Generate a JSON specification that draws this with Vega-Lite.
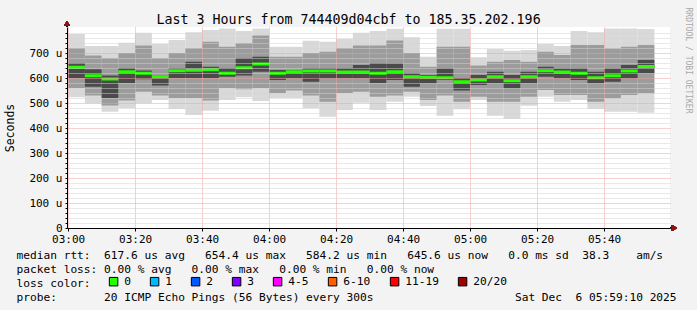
{
  "$schema": "https://vega.github.io/schema/vega-lite/v6.json",
  "width": 603,
  "height": 201,
  "autosize": {"type": "none"},
  "padding": {"left": 67, "top": 27, "right": 27, "bottom": 82},
  "background": "#f3f3f3",
  "title": {"text": "Last 3 Hours from 744409d04cbf to 185.35.202.196", "font": "DejaVu Sans Mono", "fontSize": 13.3, "fontWeight": "normal", "color": "#000000", "anchor": "middle", "dx": -20, "dy": 23, "offset": 4},
  "config": {
    "view": {"fill": "#ffffff", "stroke": null},
    "axis": {"labelFont": "DejaVu Sans Mono", "labelFontSize": 11, "labelColor": "#000000", "titleFont": "DejaVu Sans Mono", "titleFontWeight": "normal", "titleColor": "#000000", "domainColor": "#000000", "tickColor": "#000000"}
  },
  "datasets": {
    "smoke": [
      {"t": "2025-12-06T03:00:00Z", "end": "2025-12-06T03:05:00Z", "min": 523, "max": 776, "lo": 560, "hi": 720, "ilo": 600, "ihi": 660, "med": 643},
      {"t": "2025-12-06T03:05:00Z", "end": "2025-12-06T03:10:00Z", "min": 499, "max": 728, "lo": 530, "hi": 690, "ilo": 565, "ihi": 635, "med": 609},
      {"t": "2025-12-06T03:10:00Z", "end": "2025-12-06T03:15:00Z", "min": 465, "max": 728, "lo": 490, "hi": 680, "ilo": 520, "ihi": 610, "med": 596},
      {"t": "2025-12-06T03:15:00Z", "end": "2025-12-06T03:20:00Z", "min": 479, "max": 741, "lo": 510, "hi": 700, "ilo": 580, "ihi": 640, "med": 625},
      {"t": "2025-12-06T03:20:00Z", "end": "2025-12-06T03:25:00Z", "min": 499, "max": 781, "lo": 545, "hi": 730, "ilo": 595, "ihi": 630, "med": 619},
      {"t": "2025-12-06T03:25:00Z", "end": "2025-12-06T03:30:00Z", "min": 512, "max": 736, "lo": 530, "hi": 680, "ilo": 570, "ihi": 610, "med": 605},
      {"t": "2025-12-06T03:30:00Z", "end": "2025-12-06T03:35:00Z", "min": 476, "max": 752, "lo": 520, "hi": 700, "ilo": 600, "ihi": 640, "med": 629},
      {"t": "2025-12-06T03:35:00Z", "end": "2025-12-06T03:40:00Z", "min": 452, "max": 783, "lo": 520, "hi": 720, "ilo": 600, "ihi": 665, "med": 631},
      {"t": "2025-12-06T03:40:00Z", "end": "2025-12-06T03:45:00Z", "min": 469, "max": 792, "lo": 510, "hi": 745, "ilo": 600, "ihi": 645, "med": 633},
      {"t": "2025-12-06T03:45:00Z", "end": "2025-12-06T03:50:00Z", "min": 512, "max": 798, "lo": 560, "hi": 725, "ilo": 605, "ihi": 640, "med": 619},
      {"t": "2025-12-06T03:50:00Z", "end": "2025-12-06T03:55:00Z", "min": 523, "max": 788, "lo": 555, "hi": 740, "ilo": 610, "ihi": 680, "med": 641},
      {"t": "2025-12-06T03:55:00Z", "end": "2025-12-06T04:00:00Z", "min": 508, "max": 798, "lo": 560, "hi": 770, "ilo": 625, "ihi": 685, "med": 656},
      {"t": "2025-12-06T04:00:00Z", "end": "2025-12-06T04:05:00Z", "min": 520, "max": 725, "lo": 540, "hi": 685, "ilo": 592, "ihi": 632, "med": 619},
      {"t": "2025-12-06T04:05:00Z", "end": "2025-12-06T04:10:00Z", "min": 520, "max": 725, "lo": 550, "hi": 685, "ilo": 599, "ihi": 632, "med": 625},
      {"t": "2025-12-06T04:10:00Z", "end": "2025-12-06T04:15:00Z", "min": 479, "max": 749, "lo": 530, "hi": 700, "ilo": 585, "ihi": 640, "med": 628},
      {"t": "2025-12-06T04:15:00Z", "end": "2025-12-06T04:20:00Z", "min": 445, "max": 745, "lo": 505, "hi": 705, "ilo": 599, "ihi": 640, "med": 628},
      {"t": "2025-12-06T04:20:00Z", "end": "2025-12-06T04:25:00Z", "min": 472, "max": 756, "lo": 540, "hi": 720, "ilo": 599, "ihi": 640, "med": 624},
      {"t": "2025-12-06T04:25:00Z", "end": "2025-12-06T04:30:00Z", "min": 501, "max": 781, "lo": 545, "hi": 730, "ilo": 599, "ihi": 652, "med": 624},
      {"t": "2025-12-06T04:30:00Z", "end": "2025-12-06T04:35:00Z", "min": 472, "max": 788, "lo": 525, "hi": 730, "ilo": 580, "ihi": 660, "med": 619},
      {"t": "2025-12-06T04:35:00Z", "end": "2025-12-06T04:40:00Z", "min": 505, "max": 797, "lo": 530, "hi": 750, "ilo": 592, "ihi": 659, "med": 625},
      {"t": "2025-12-06T04:40:00Z", "end": "2025-12-06T04:45:00Z", "min": 525, "max": 763, "lo": 545, "hi": 700, "ilo": 565, "ihi": 620, "med": 605},
      {"t": "2025-12-06T04:45:00Z", "end": "2025-12-06T04:50:00Z", "min": 488, "max": 685, "lo": 512, "hi": 645, "ilo": 579, "ihi": 612, "med": 603},
      {"t": "2025-12-06T04:50:00Z", "end": "2025-12-06T04:55:00Z", "min": 449, "max": 797, "lo": 530, "hi": 725, "ilo": 592, "ihi": 639, "med": 601},
      {"t": "2025-12-06T04:55:00Z", "end": "2025-12-06T05:00:00Z", "min": 475, "max": 797, "lo": 505, "hi": 725, "ilo": 550, "ihi": 600, "med": 585},
      {"t": "2025-12-06T05:00:00Z", "end": "2025-12-06T05:05:00Z", "min": 512, "max": 683, "lo": 525, "hi": 650, "ilo": 572, "ihi": 612, "med": 592},
      {"t": "2025-12-06T05:05:00Z", "end": "2025-12-06T05:10:00Z", "min": 449, "max": 716, "lo": 505, "hi": 665, "ilo": 579, "ihi": 625, "med": 605},
      {"t": "2025-12-06T05:10:00Z", "end": "2025-12-06T05:15:00Z", "min": 436, "max": 709, "lo": 505, "hi": 672, "ilo": 559, "ihi": 612, "med": 589},
      {"t": "2025-12-06T05:15:00Z", "end": "2025-12-06T05:20:00Z", "min": 489, "max": 712, "lo": 525, "hi": 665, "ilo": 579, "ihi": 625, "med": 605},
      {"t": "2025-12-06T05:20:00Z", "end": "2025-12-06T05:25:00Z", "min": 525, "max": 736, "lo": 552, "hi": 705, "ilo": 605, "ihi": 645, "med": 629},
      {"t": "2025-12-06T05:25:00Z", "end": "2025-12-06T05:30:00Z", "min": 505, "max": 728, "lo": 532, "hi": 692, "ilo": 599, "ihi": 639, "med": 624},
      {"t": "2025-12-06T05:30:00Z", "end": "2025-12-06T05:35:00Z", "min": 512, "max": 788, "lo": 532, "hi": 732, "ilo": 592, "ihi": 639, "med": 619},
      {"t": "2025-12-06T05:35:00Z", "end": "2025-12-06T05:40:00Z", "min": 476, "max": 783, "lo": 505, "hi": 732, "ilo": 579, "ihi": 625, "med": 601},
      {"t": "2025-12-06T05:40:00Z", "end": "2025-12-06T05:45:00Z", "min": 465, "max": 798, "lo": 519, "hi": 719, "ilo": 585, "ihi": 639, "med": 609},
      {"t": "2025-12-06T05:45:00Z", "end": "2025-12-06T05:50:00Z", "min": 465, "max": 798, "lo": 532, "hi": 725, "ilo": 599, "ihi": 652, "med": 628},
      {"t": "2025-12-06T05:50:00Z", "end": "2025-12-06T05:55:00Z", "min": 461, "max": 796, "lo": 539, "hi": 732, "ilo": 619, "ihi": 672, "med": 646}
    ]
  },
  "data": {"name": "smoke"},
  "resolve": {"axis": {"y": "independent"}},
  "layer": [
    {
      "mark": {"type": "bar", "color": "#d9d9d9"},
      "encoding": {
        "x": {"field": "t", "type": "temporal",
          "scale": {"type": "utc", "domain": [1764989980000, 1765000780000]},
          "axis": {
            "values": [1764990000000, 1764990300000, 1764990600000, 1764990900000, 1764991200000, 1764991500000, 1764991800000, 1764992100000, 1764992400000, 1764992700000, 1764993000000, 1764993300000, 1764993600000, 1764993900000, 1764994200000, 1764994500000, 1764994800000, 1764995100000, 1764995400000, 1764995700000, 1764996000000, 1764996300000, 1764996600000, 1764996900000, 1764997200000, 1764997500000, 1764997800000, 1764998100000, 1764998400000, 1764998700000, 1764999000000, 1764999300000, 1764999600000, 1764999900000, 1765000200000, 1765000500000],
            "labelExpr": "utcminutes(datum.value) % 20 === 0 ? utcFormat(datum.value, '%H:%M') : ''",
            "labelFlush": false, "labelOverlap": false, "labelPadding": 2,
            "grid": true, "gridDash": [1, 1], "gridWidth": 1,
            "gridColor": {"condition": {"test": "utcminutes(datum.value) % 20 === 0", "value": "#f2a0a0"}, "value": "#d2d2d2"},
            "tickSize": 3, "zindex": 1,
            "title": ["median rtt:\u00a0\u00a0617.6 us avg\u00a0\u00a0\u00a0654.4 us max\u00a0\u00a0\u00a0584.2 us min\u00a0\u00a0\u00a0645.6 us now\u00a0\u00a0\u00a00.0 ms sd\u00a0\u00a038.3\u00a0\u00a0\u00a0\u00a0am/s", "packet loss: 0.00 % avg\u00a0\u00a0\u00a00.00 % max\u00a0\u00a0\u00a00.00 % min\u00a0\u00a0\u00a00.00 % now", "loss color:", "probe:\u00a0\u00a0\u00a0\u00a0\u00a0\u00a0\u00a020 ICMP Echo Pings (56 Bytes) every 300s\u00a0\u00a0\u00a0\u00a0\u00a0\u00a0\u00a0\u00a0\u00a0\u00a0\u00a0\u00a0\u00a0\u00a0\u00a0\u00a0\u00a0\u00a0\u00a0\u00a0\u00a0Sat Dec\u00a0\u00a06 05:59:10 2025"],
            "titleX": -51, "titleY": 30, "titleAlign": "left", "titleAnchor": "start", "titleBaseline": "alphabetic",
            "titleFontSize": 11.2, "titleLineHeight": 14
          }
        },
        "x2": {"field": "end"},
        "y": {"field": "min", "type": "quantitative", "scale": {"domain": [0, 804], "nice": false},
          "axis": {
            "orient": "left",
            "values": [0, 20, 40, 60, 80, 100, 120, 140, 160, 180, 200, 220, 240, 260, 280, 300, 320, 340, 360, 380, 400, 420, 440, 460, 480, 500, 520, 540, 560, 580, 600, 620, 640, 660, 680, 700, 720, 740, 760, 780],
            "labelExpr": "datum.value % 100 === 0 ? (datum.value === 0 ? '0\u00a0\u00a0' : datum.value + ' u') : ''",
            "labelOverlap": false, "labelPadding": 3, "tickSize": 2,
            "grid": true, "gridDash": [1, 1], "gridWidth": 1,
            "gridColor": {"condition": {"test": "datum.value % 100 === 0", "value": "#f2a0a0"}, "value": "#d2d2d2"},
            "zindex": 1,
            "title": "Seconds", "titleFontSize": 11.5, "titleX": -57, "titleBaseline": "middle"
          }
        },
        "y2": {"field": "max"}
      }
    },
    {
      "mark": {"type": "bar", "color": "#9c9c9c"},
      "encoding": {
        "x": {"field": "t", "type": "temporal"},
        "x2": {"field": "end"},
        "y": {"field": "lo", "type": "quantitative", "axis": null},
        "y2": {"field": "hi"}
      }
    },
    {
      "mark": {"type": "bar", "color": "#4a4a4a"},
      "encoding": {
        "x": {"field": "t", "type": "temporal"},
        "x2": {"field": "end"},
        "y": {"field": "ilo", "type": "quantitative", "axis": null},
        "y2": {"field": "ihi"}
      }
    },
    {
      "mark": {"type": "rule", "color": "#26ff00", "strokeWidth": 3},
      "encoding": {
        "x": {"field": "t", "type": "temporal"},
        "x2": {"field": "end"},
        "y": {"field": "med", "type": "quantitative", "axis": null}
      }
    },
    {
      "data": {"values": [{"loss": "0"}, {"loss": "1"}, {"loss": "2"}, {"loss": "3"}, {"loss": "4-5"}, {"loss": "6-10"}, {"loss": "11-19"}, {"loss": "20/20"}]},
      "mark": {"type": "square", "filled": true, "size": 0},
      "encoding": {
        "x": {"datum": 1764990000000, "type": "temporal"},
        "y": {"datum": 0, "type": "quantitative", "axis": null},
        "color": {"field": "loss", "type": "nominal",
          "scale": {"domain": ["0", "1", "2", "3", "4-5", "6-10", "11-19", "20/20"], "range": ["#26ff00", "#00b8ff", "#0059ff", "#7e00ff", "#ff00ff", "#ff5f00", "#ff0000", "#a10000"]},
          "legend": {"orient": "none", "legendX": 41, "legendY": 249, "direction": "horizontal", "title": null,
            "symbolType": "square", "symbolSize": 72, "symbolStrokeColor": "#000000", "symbolStrokeWidth": 1, "symbolOpacity": 1,
            "labelFont": "DejaVu Sans Mono", "labelFontSize": 11.2, "labelColor": "#000000", "labelOffset": 5, "columnPadding": 17, "padding": 0}
        }
      }
    },
    {
      "mark": {"type": "rule", "color": "#000000", "strokeWidth": 1},
      "encoding": {
        "x": {"datum": 1764989980000, "type": "temporal"},
        "y": {"datum": 804, "type": "quantitative", "axis": null},
        "y2": {"datum": 816}
      }
    },
    {
      "mark": {"type": "rule", "color": "#000000", "strokeWidth": 1},
      "encoding": {
        "x": {"datum": 1765000780000, "type": "temporal"},
        "x2": {"datum": 1765000840000},
        "y": {"datum": 0, "type": "quantitative", "axis": null}
      }
    },
    {
      "mark": {"type": "point", "shape": "triangle-right", "filled": true, "color": "#8b1414", "size": 36, "opacity": 1},
      "encoding": {
        "x": {"datum": 1765000860000, "type": "temporal"},
        "y": {"datum": 0, "type": "quantitative", "axis": null}
      }
    },
    {
      "mark": {"type": "point", "shape": "triangle-up", "filled": true, "color": "#8b1414", "size": 36, "opacity": 1},
      "encoding": {
        "x": {"datum": 1764989980000, "type": "temporal"},
        "y": {"datum": 818, "type": "quantitative",
          "axis": {"orient": "right", "domain": false, "ticks": false, "labels": false, "grid": false,
            "title": "RRDTOOL / TOBI OETIKER", "titleAngle": 90, "titleX": 17, "titleY": 33, "titleAlign": "center", "titleBaseline": "middle",
            "titleFontSize": 8, "titleColor": "#a8a8a8"}
        }
      }
    }
  ]
}
